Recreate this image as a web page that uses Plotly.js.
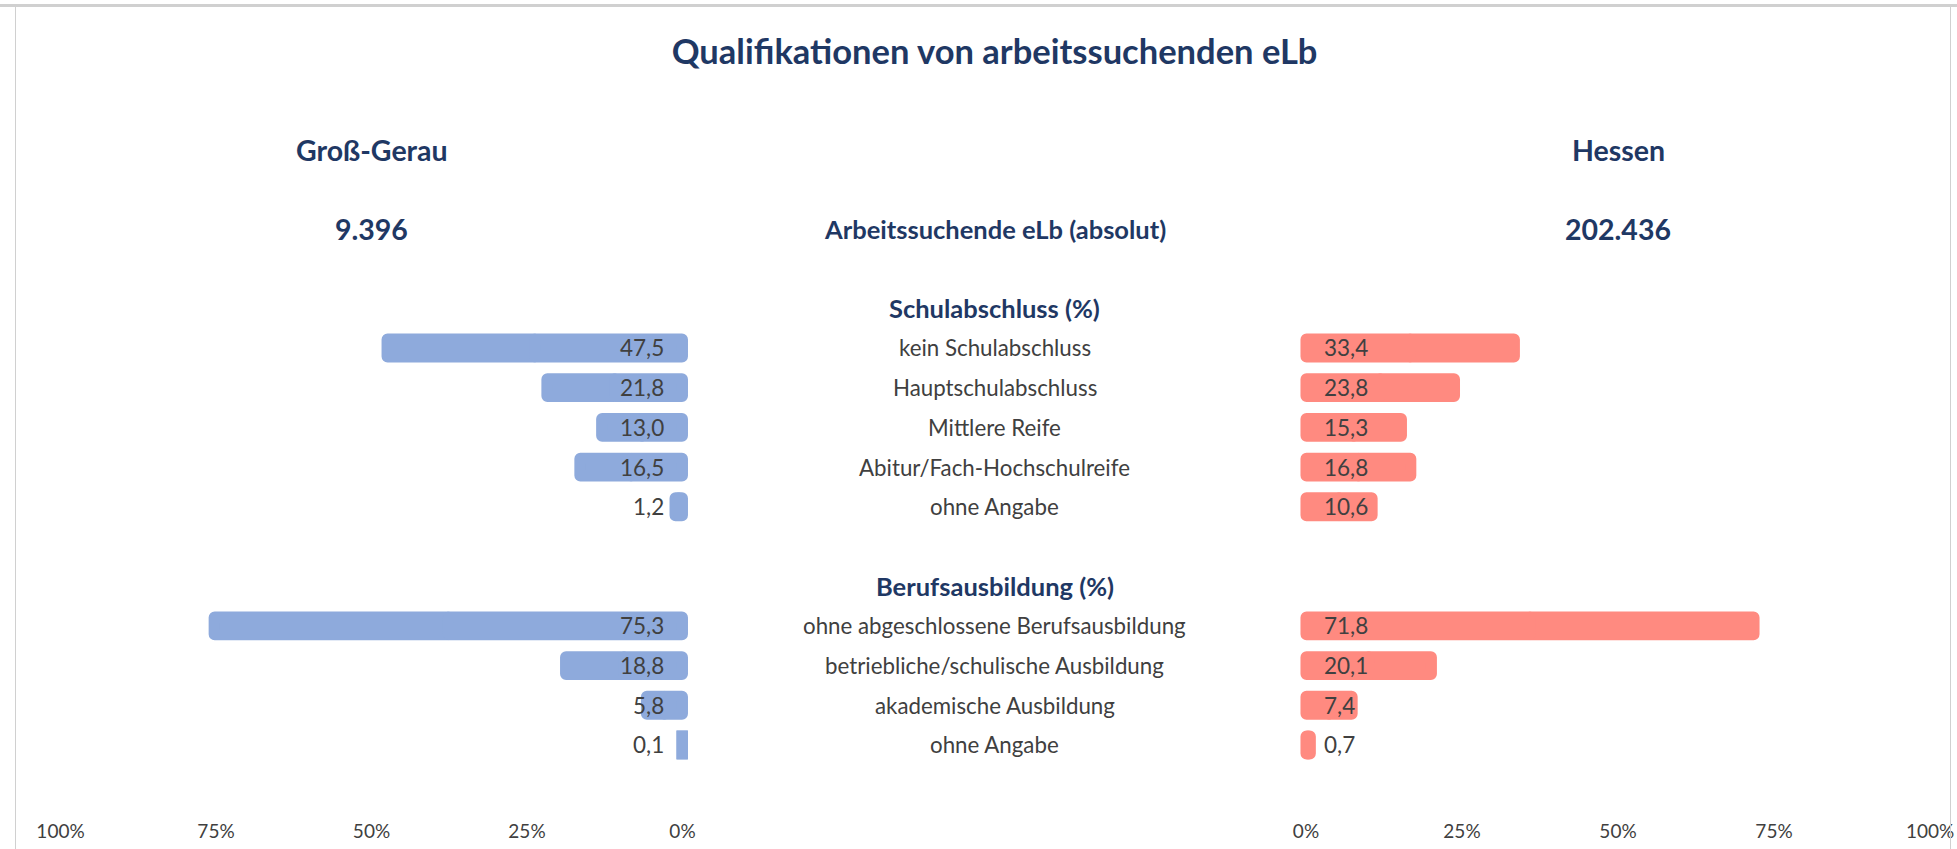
<!DOCTYPE html>
<html>
<head>
<meta charset="utf-8">
<script src="https://cdn.plot.ly/plotly-3.0.1.min.js"></script>
<style>
  html, body { margin: 0; padding: 0; background: #fff; }
  #wrap { position: relative; width: 1957px; height: 849px; overflow: hidden; }
  #chart { position: absolute; left: 0; top: 0; width: 1957px; height: 849px; }
  #topline { position: absolute; left: 0; top: 4px; width: 1957px; height: 3px; background: #d0d0d0; z-index: 2; }
  #lline { position: absolute; left: 15px; top: 6px; width: 1px; height: 849px; background: #d0d0d0; z-index: 2; }
  #rline { position: absolute; left: 1950px; top: 6px; width: 1px; height: 849px; background: #d0d0d0; z-index: 2; }
</style>
</head>
<body>
<div id="wrap">
  <div id="chart"></div>
  <div id="topline"></div><div id="lline"></div><div id="rline"></div>
</div>
<script>
// ---- data ----
const chartTitle = "Qualifikationen von arbeitssuchenden eLb";
const regionLeft = "Groß-Gerau";
const regionRight = "Hessen";
const totalLabel = "Arbeitssuchende eLb (absolut)";
const totalLeft = 9396;
const totalRight = 202436;
const headerSchul = "Schulabschluss (%)";
const headerBeruf = "Berufsausbildung (%)";
const categoriesSchul = ["kein Schulabschluss", "Hauptschulabschluss", "Mittlere Reife", "Abitur/Fach-Hochschulreife", "ohne Angabe"];
const leftSchul = [47.5, 21.8, 13.0, 16.5, 1.2];
const rightSchul = [33.4, 23.8, 15.3, 16.8, 10.6];
const categoriesBeruf = ["ohne abgeschlossene Berufsausbildung", "betriebliche/schulische Ausbildung", "akademische Ausbildung", "ohne Angabe"];
const leftBeruf = [75.3, 18.8, 5.8, 0.1];
const rightBeruf = [71.8, 20.1, 7.4, 0.7];
const tickValues = [0, 25, 50, 75, 100];
const tickLabels = ["0%", "25%", "50%", "75%", "100%"];

// ---- styling ----
const FONT = "Lato, 'Noto Sans', sans-serif";
const NAVY = "#1f3864";
const GREY = "#404040";
const BLUE = "#8eaadc";
const SALMON = "#ff8a80";

// row layout (header rows and blank rows between groups)
const rowsSchul = categoriesSchul.map((_, i) => i + 1);
const rowsBeruf = categoriesBeruf.map((_, i) => i + categoriesSchul.length + 3);
const headerSchulRow = 0;
const headerBerufRow = categoriesSchul.length + 2;

const allRows = rowsSchul.concat(rowsBeruf);
const allCats = categoriesSchul.concat(categoriesBeruf);
const allLeft = leftSchul.concat(leftBeruf);
const allRight = rightSchul.concat(rightBeruf);

const fmt1 = v => v.toFixed(1).replace(".", ",");
const fmtInt = v => String(v).replace(/\B(?=(\d{3})+(?!\d))/g, ".");

const W = 1957;
const barStyle = (c) => ({ color: c, line: { color: c, width: 11 }, cornerradius: 1 });

// each bar drawn as two halves (middle->end, middle->zero) so both ends get rounded corners
const barPair = (vals, xa, col) => [
  { type: "bar", orientation: "h", x: vals.map(v => v / 2), base: vals.map(v => v / 2), y: allRows,
    xaxis: xa, yaxis: "y", width: 0.45, marker: barStyle(col), hoverinfo: "skip" },
  { type: "bar", orientation: "h", x: vals.map(v => -v / 2), base: vals.map(v => v / 2), y: allRows,
    xaxis: xa, yaxis: "y", width: 0.45, marker: barStyle(col), hoverinfo: "skip" }
];
const traces = barPair(allLeft, "x", BLUE).concat(barPair(allRight, "x2", SALMON));

const annotations = [];
const txt = (o) => annotations.push(Object.assign({ showarrow: false, yref: "y" }, o));
const catFont = { family: FONT, size: 22.3, color: GREY };
const valFont = { family: FONT, size: 22.5, color: GREY };
const hFont = { family: FONT, size: 25.5, color: NAVY };
const bigFont = { family: FONT, size: 28.5, color: NAVY };

allRows.forEach((r, i) => {
  txt({ x: 0.5082, xref: "paper", y: r, text: allCats[i], font: catFont, xanchor: "center" });
  txt({ x: 0, xref: "x", y: r, text: fmt1(allLeft[i]), font: valFont, xanchor: "right", xshift: -16 });
  txt({ x: 0, xref: "x2", y: r, text: fmt1(allRight[i]), font: valFont, xanchor: "left", xshift: 16 });
});
txt({ x: 0.5082, xref: "paper", y: headerSchulRow, text: "<b>" + headerSchul + "</b>", font: hFont });
txt({ x: 0.5082, xref: "paper", y: headerBerufRow, text: "<b>" + headerBeruf + "</b>", font: hFont });
txt({ x: 0.5082, xref: "paper", y: -2, text: "<b>" + totalLabel + "</b>", font: hFont });
txt({ x: 50, xref: "x", y: -4, text: "<b>" + regionLeft + "</b>", font: bigFont });
txt({ x: 50, xref: "x2", y: -4, text: "<b>" + regionRight + "</b>", font: bigFont });
txt({ x: 50, xref: "x", y: -2, text: "<b>" + fmtInt(totalLeft) + "</b>", font: bigFont });
txt({ x: 50, xref: "x2", y: -2, text: "<b>" + fmtInt(totalRight) + "</b>", font: bigFont });

const axisCommon = {
  showgrid: false, zeroline: false, showline: false, ticks: "",
  tickvals: tickValues, ticktext: tickLabels, fixedrange: true,
  tickfont: { family: FONT, size: 19, color: GREY }, anchor: "y"
};

const layout = {
  width: W, height: 849,
  margin: { l: 0, r: 0, t: 0, b: 31 },
  paper_bgcolor: "rgba(0,0,0,0)", plot_bgcolor: "rgba(0,0,0,0)",
  showlegend: false,
  barmode: "overlay",
  title: { text: "<b>" + chartTitle + "</b>", font: { family: FONT, size: 34.5, color: NAVY },
           x: 0.5082, xanchor: "center", y: 1 - 52 / 849, yanchor: "middle", yref: "container" },
  xaxis: Object.assign({}, axisCommon, { domain: [50 / W, 692 / W], range: [101.69, -1.53] }),
  xaxis2: Object.assign({}, axisCommon, { domain: [1296 / W, 1945 / W], range: [-1.6, 102.4] }),
  yaxis: { range: [12.84, -7.766], visible: false, fixedrange: true },
  bargap: 0,
  annotations: annotations
};

Plotly.newPlot("chart", traces, layout, { staticPlot: true, displayModeBar: false });
</script>
</body>
</html>
